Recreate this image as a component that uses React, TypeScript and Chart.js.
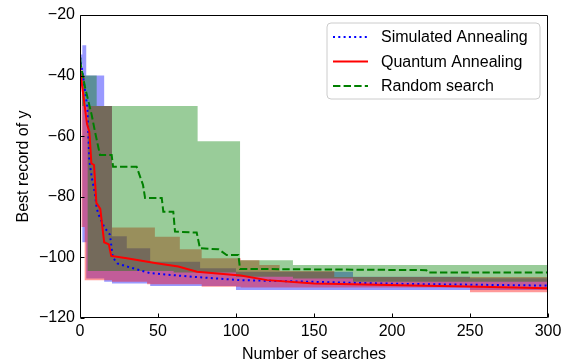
import React, { useEffect, useRef } from "react";
import { Chart, registerables } from "chart.js";
Chart.register(...registerables);

// ---- data ----
const xTicks = [0, 50, 100, 150, 200, 250, 300];
const yTicks = [-20, -40, -60, -80, -100, -120];

const seriesLabels = ["Simulated Annealing", "Quantum Annealing", "Random search"];

// Simulated Annealing (mean, dotted blue)
const saX = [0, 1, 4.7, 6, 7.5, 9.6, 10.7, 12, 16, 17, 19.2, 21, 24, 30, 45, 72, 103, 128, 192, 214, 250, 300];
const saMean = [-34, -37, -50.3, -68, -73.5, -79, -83.8, -86, -90.5, -91, -92.5, -100, -102, -103, -105.2, -106.4, -107.5, -107.8, -108.6, -108.8, -109, -109.3];
// SA band
const saBandX = [0, 1.5, 4, 15.5, 20.5, 30, 45, 77, 100, 175, 250, 300];
const saUpper = [-33, -30, -40, -50, -93, -97, -101.4, -103.6, -104.7, -106.4, -106.9, -106.9];
const saLower = [-36, -95, -107, -108, -108.6, -108.6, -109.4, -109.4, -110.8, -110.8, -110.8, -110.8];

// Quantum Annealing (mean, solid red)
const qaX = [0, 1, 4.5, 6, 7.3, 9, 10.5, 13, 15.5, 18.5, 20, 30, 49, 63, 75, 103, 120, 150, 175, 214, 256, 300];
const qaMean = [-37, -42, -56, -58.5, -69, -69.5, -82, -84, -95, -95.7, -99.5, -100.3, -101.9, -103, -104.7, -106, -107.5, -108.6, -108.9, -109.3, -109.7, -110.2];
// QA band
const qaBandX = [0, 1, 3, 20.5, 43, 48, 64, 78, 103, 115, 128, 163, 250, 300];
const qaUpper = [-36, -40, -50, -90.1, -90.1, -93.2, -97.3, -100.3, -100.9, -102.5, -104.5, -106.5, -106.5, -106.5];
const qaLower = [-38, -90, -107.5, -108, -108.9, -108.9, -108.9, -109.7, -109.9, -109.9, -109.9, -109.9, -111.5, -111.5];

// Random search (mean, dashed green)
const rsX = [0, 3.2, 7.5, 9.6, 12.8, 20.3, 21.2, 36.3, 40.4, 41.7, 52.4, 53.4, 59.8, 60.9, 74.8, 76.9, 88.7, 94.0, 101.5, 102.6, 222, 223, 300];
const rsMean = [-35, -43.8, -53, -58.5, -66.2, -66.2, -70.1, -70.1, -76.1, -80.4, -80.4, -84.9, -84.9, -91.5, -91.8, -97.0, -97.3, -99.2, -99.2, -103.8, -104.2, -105, -105];
// RS band
const rsBandX = [0, 1.3, 4.9, 10.7, 60, 75.4, 100, 102.6, 136.5, 175, 300];
const rsUpper = [-34, -40, -40, -50, -50, -61.7, -61.7, -100.9, -102.5, -102.5, -102.5];
const rsLower = [-36, -50, -104.5, -104.5, -105, -105, -106.4, -106.4, -107, -108, -108];

const FONT = "'Liberation Sans', Arial, Helvetica, sans-serif";

function pts(xs: number[], ys: number[]) {
  return xs.map((x, i) => ({ x, y: ys[i] }));
}

const framePlugin = {
  id: "frameLegend",
  afterDraw(chart: any) {
    const ctx = chart.ctx;
    const { left, right, top, bottom } = chart.chartArea;
    const xs = chart.scales.x;
    const ys = chart.scales.y;
    ctx.save();
    ctx.strokeStyle = "#000";
    ctx.lineWidth = 1;
    const L = Math.round(left) + 0.5;
    const R = Math.round(right) - 0.5;
    const T = Math.round(top) + 0.5;
    const B = Math.round(bottom) - 0.5;
    ctx.beginPath();
    ctx.moveTo(L, T);
    ctx.lineTo(R, T);
    ctx.lineTo(R, B);
    ctx.lineTo(L, B);
    ctx.closePath();
    ctx.stroke();
    // inward ticks
    ctx.beginPath();
    xTicks.forEach((v) => {
      const px = Math.round(xs.getPixelForValue(v)) + 0.5;
      ctx.moveTo(px, B);
      ctx.lineTo(px, B - 4);
    });
    yTicks.forEach((v) => {
      const py = Math.round(ys.getPixelForValue(v)) + 0.5;
      ctx.moveTo(L, py);
      ctx.lineTo(L + 4, py);
    });
    ctx.stroke();

    // legend
    const bx = 327, by = 23, bw = 213, bh = 76, r = 4;
    ctx.beginPath();
    ctx.moveTo(bx + r, by);
    ctx.lineTo(bx + bw - r, by);
    ctx.arcTo(bx + bw, by, bx + bw, by + r, r);
    ctx.lineTo(bx + bw, by + bh - r);
    ctx.arcTo(bx + bw, by + bh, bx + bw - r, by + bh, r);
    ctx.lineTo(bx + r, by + bh);
    ctx.arcTo(bx, by + bh, bx, by + bh - r, r);
    ctx.lineTo(bx, by + r);
    ctx.arcTo(bx, by, bx + r, by, r);
    ctx.closePath();
    ctx.fillStyle = "rgba(255,255,255,0.8)";
    ctx.fill();
    ctx.strokeStyle = "#cccccc";
    ctx.lineWidth = 1;
    ctx.stroke();

    const items = chart.data.datasets.filter((d: any) => d.isMean);
    items.sort((a: any, b: any) => a.legendOrder - b.legendOrder);
    items.forEach((d: any, i: number) => {
      const ry = by + 14 + i * 24.5;
      ctx.beginPath();
      ctx.setLineDash(d.borderDash || []);
      ctx.strokeStyle = d.borderColor;
      ctx.lineWidth = d.borderWidth;
      ctx.moveTo(bx + 6, ry);
      ctx.lineTo(bx + 41, ry);
      ctx.stroke();
      ctx.setLineDash([]);
      ctx.fillStyle = "#000";
      ctx.font = `16px ${FONT}`;
      ctx.textBaseline = "middle";
      ctx.textAlign = "left";
      ctx.fillText(d.label, bx + 54, ry + 1);
    });
    ctx.restore();
  },
};

export default function App() {
  const ref = useRef<HTMLCanvasElement>(null);
  useEffect(() => {
    if (!ref.current) return;
    const band = (label: string, xs: number[], ys: number[], color: string, fill: any) => ({
      label,
      data: pts(xs, ys),
      stepped: true,
      borderWidth: 0,
      borderColor: "rgba(0,0,0,0)",
      backgroundColor: color,
      pointRadius: 0,
      fill,
      isMean: false,
    });
    const chart = new Chart(ref.current, {
      type: "line",
      data: {
        datasets: [
          {
            label: seriesLabels[2],
            data: pts(rsX, rsMean),
            borderColor: "#008000",
            borderWidth: 2,
            borderDash: [7.4, 3.2],
            pointRadius: 0,
            fill: false,
            tension: 0,
            isMean: true,
            legendOrder: 2,
          } as any,
          {
            label: seriesLabels[1],
            data: pts(qaX, qaMean),
            borderColor: "#ff0000",
            borderWidth: 2,
            pointRadius: 0,
            fill: false,
            tension: 0,
            isMean: true,
            legendOrder: 1,
          } as any,
          {
            label: seriesLabels[0],
            data: pts(saX, saMean),
            borderColor: "#0000ff",
            borderWidth: 2,
            borderDash: [2, 3.3],
            pointRadius: 0,
            fill: false,
            tension: 0,
            isMean: true,
            legendOrder: 0,
          } as any,
          band("rs-upper", rsBandX, rsUpper, "rgba(0,128,0,0.4)", "+1"),
          band("rs-lower", rsBandX, rsLower, "rgba(0,0,0,0)", false),
          band("qa-upper", qaBandX, qaUpper, "rgba(255,0,0,0.4)", "+1"),
          band("qa-lower", qaBandX, qaLower, "rgba(0,0,0,0)", false),
          band("sa-upper", saBandX, saUpper, "rgba(0,0,255,0.4)", "+1"),
          band("sa-lower", saBandX, saLower, "rgba(0,0,0,0)", false),
        ],
      },
      options: {
        responsive: false,
        animation: false,
        layout: { padding: { left: 0, right: 23, top: 15, bottom: 0 } },
        plugins: { legend: { display: false }, tooltip: { enabled: false } },
        scales: {
          x: {
            type: "linear",
            min: 0,
            max: 300,
            afterBuildTicks: (s: any) => {
              s.ticks = xTicks.map((v) => ({ value: v }));
            },
            afterFit: (s: any) => {
              s.height = 46;
            },
            grid: { display: false, drawTicks: false, tickLength: 0 },
            border: { display: false },
            ticks: {
              color: "#000",
              font: { size: 16, family: FONT },
              padding: 4,
              maxRotation: 0,
              autoSkip: false,
            },
            title: {
              display: true,
              text: "Number of searches",
              color: "#000",
              font: { size: 16, family: FONT },
              padding: { top: 0, bottom: 0 },
            },
          },
          y: {
            type: "linear",
            min: -120,
            max: -20,
            afterBuildTicks: (s: any) => {
              s.ticks = yTicks.map((v) => ({ value: v }));
            },
            afterFit: (s: any) => {
              s.width = 80;
            },
            grid: { display: false, drawTicks: false, tickLength: 0 },
            border: { display: false },
            ticks: {
              color: "#000",
              font: { size: 16, family: FONT },
              padding: 5,
              autoSkip: false,
              callback: (v: any) => String(v).replace("-", "\u2212"),
            },
            title: {
              display: true,
              text: "Best record of y",
              color: "#000",
              font: { size: 16, family: FONT },
              padding: { top: 14, bottom: 0 },
            },
          },
        },
      } as any,
      plugins: [framePlugin],
    });
    return () => chart.destroy();
  }, []);
  return (
    <div style={{ position: "absolute", left: 0, top: 0, width: 571, height: 364, background: "#fff" }}>
      <canvas ref={ref} width={571} height={364} style={{ display: "block" }} />
    </div>
  );
}
